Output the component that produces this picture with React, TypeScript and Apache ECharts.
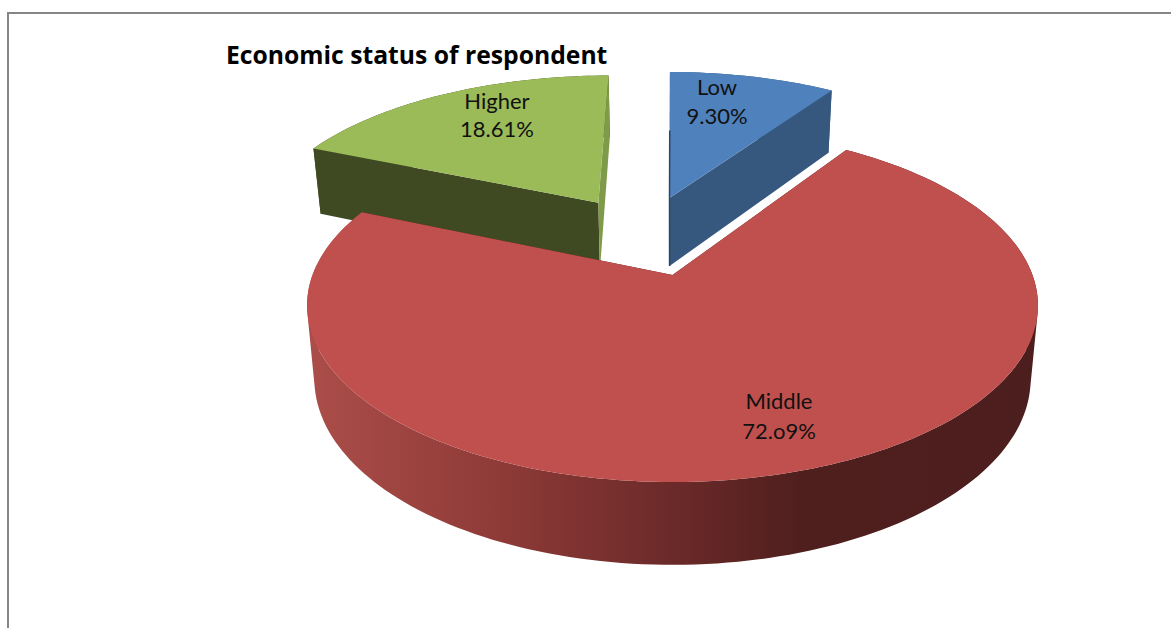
import React, { useEffect, useRef } from "react";
import * as echarts from "echarts";

const titleText = "Economic status of respondent";
const categories = ["Low", "Middle", "Higher"];
const shares = [9.3, 72.09, 18.61];
const shareLabels = ["9.30%", "72.o9%", "18.61%"];
const topColors = ["#4f81bd", "#c0504d", "#9bbb59"];
const wallColors = ["#36587f", "#4c1e1d", "#3f4a22"];
const sliverColors = ["#2b4666", "#4c1e1d", "#7f9a48"];
const explodeU = [-0.009, 0, -0.222];
const explodeV = [-0.487, 0, -0.455];
const labelCentres = [[717, 86, 115], [779, 400, 430], [497, 100, 128]];
const drawOrder = [2, 0, 1];
const redWallStops = [
  [0, "#ab4d49"],
  [0.25, "#8f3b38"],
  [0.5, "#6b2a29"],
  [0.68, "#4f1f1e"],
  [1, "#4c1e1d"],
];

const CX = 672.5, CY = 275, R = 360, S = 171.4, K = 0.172, D = 72, LOWER = 0.98;
const FONT = "Lato, Carlito, 'Open Sans', sans-serif";

function project(u: number, v: number, lower: boolean) {
  const den = 1 - K * v;
  const s = lower ? LOWER : 1;
  return [CX + (s * R * u) / den, CY + (s * S * v + (lower ? D : 0)) / den];
}

function quadPath(q: number[][]) {
  let area = 0;
  q.forEach((p, n) => {
    const r = q[(n + 1) % q.length];
    area += p[0] * r[1] - r[0] * p[1];
  });
  const pts = area < 0 ? q.slice().reverse() : q;
  return "M" + pts.map((p) => p[0].toFixed(2) + " " + p[1].toFixed(2)).join("L") + "Z";
}

const starts = shares.map((_, i) => shares.slice(0, i).reduce((a, b) => a + b, 0));

function renderSlice(params: any, api: any) {
  const i = drawOrder[params.dataIndex];
  const share = api.value(0) as number;
  const start = api.value(1) as number;
  const a0 = (start / 100) * Math.PI * 2;
  const a1 = ((start + share) / 100) * Math.PI * 2;
  const u0 = explodeU[i];
  const v0 = explodeV[i];
  const steps = Math.max(8, Math.round((a1 - a0) * 40));
  const arc = (lower: boolean) => {
    const pts: number[][] = [];
    for (let n = 0; n <= steps; n++) {
      const a = a0 + ((a1 - a0) * n) / steps;
      pts.push(project(u0 + Math.sin(a), v0 - Math.cos(a), lower));
    }
    return pts;
  };
  const topArc = arc(false);
  const lowArc = arc(true);
  const apexTop = project(u0, v0, false);
  const apexLow = project(u0, v0, true);
  const outerFill =
    i === 1
      ? new echarts.graphic.LinearGradient(
          315, 0, 1030, 0,
          redWallStops.map(([offset, color]) => ({ offset: offset as number, color: color as string })),
          true
        )
      : wallColors[i];
  let wallPath = "";
  for (let n = 0; n < steps; n++) {
    wallPath += quadPath([topArc[n], topArc[n + 1], lowArc[n + 1], lowArc[n]]);
  }
  const [lx, ny, vy] = labelCentres[i];
  const textStyle = { fill: "#111", fontSize: 22, fontFamily: FONT, align: "center", verticalAlign: "middle" };
  const edgeMid = project(u0 + 0.5 * Math.sin(a0), v0 - 0.5 * Math.cos(a0), false);
  const children: any[] = [
    { type: "path", shape: { pathData: wallPath }, style: { fill: outerFill } },
    { type: "polygon", shape: { points: [apexTop, topArc[0], lowArc[0], apexLow] }, style: { fill: i === 2 ? wallColors[i] : sliverColors[i] } },
    { type: "polygon", shape: { points: [apexTop, topArc[steps], lowArc[steps], apexLow] }, style: { fill: i === 2 ? sliverColors[i] : wallColors[i] } },
    { type: "polygon", shape: { points: [apexTop, ...topArc] }, style: { fill: topColors[i] } },
  ];
  if (i === 0) {
    children.push({
      type: "polyline",
      shape: { points: [edgeMid, apexTop, apexLow] },
      style: { stroke: sliverColors[i], lineWidth: 1.5, fill: "none" },
    });
  }
  children.push(
    { type: "text", style: { ...textStyle, text: categories[i], x: lx, y: ny } },
    { type: "text", style: { ...textStyle, text: shareLabels[i], x: lx, y: vy } }
  );
  return { type: "group", children };
}

export default function App() {
  const ref = useRef<HTMLDivElement>(null);
  useEffect(() => {
    const chart = echarts.init(ref.current!, undefined, { renderer: "svg" });
    chart.setOption({
      animation: false,
      backgroundColor: "#ffffff",
      graphic: [
        {
          type: "polyline",
          shape: { points: [[8, 628], [8, 13], [1171, 13]] },
          style: { stroke: "#868686", lineWidth: 2, fill: "none" },
        },
        {
          type: "text",
          style: {
            text: titleText, x: 226, y: 54, fill: "#000",
            fontSize: 24.7, fontWeight: "bold", fontFamily: "'Open Sans', Lato, sans-serif",
            align: "left", verticalAlign: "middle",
          },
        },
      ],
      series: [
        {
          type: "custom",
          coordinateSystem: "none",
          silent: true,
          renderItem: renderSlice,
          data: drawOrder.map((i) => ({ name: categories[i], value: [shares[i], starts[i]] })),
        },
      ],
    });
    return () => chart.dispose();
  }, []);
  return <div ref={ref} style={{ position: "fixed", left: 0, top: 0, width: 1171, height: 628 }} />;
}
